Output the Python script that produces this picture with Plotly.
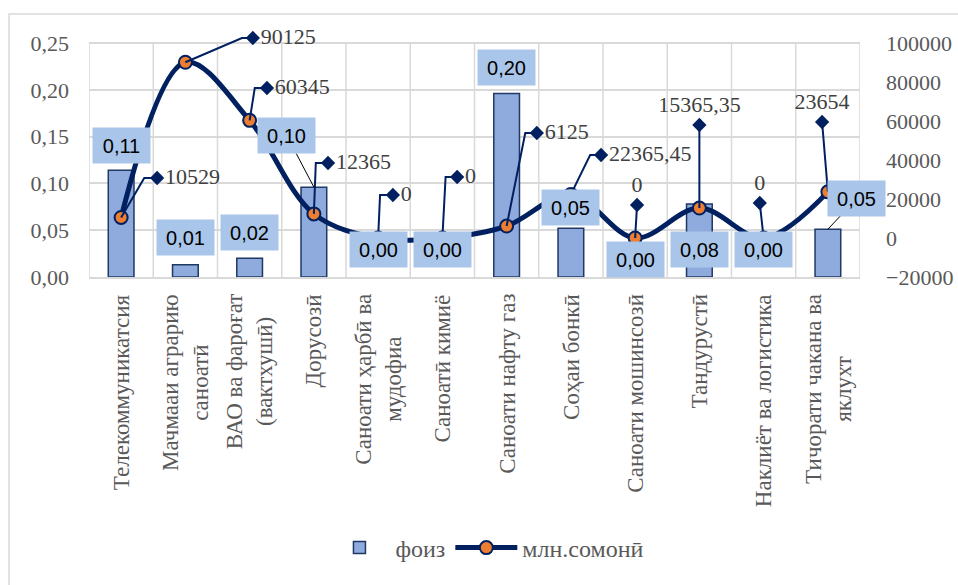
import plotly.graph_objects as go

# ---------------- data ----------------
categories = [
    "Телекоммуникатсия",
    "Мачмааи аграрию<br>саноатӣ",
    "ВАО ва фароғат<br>(вактхушӣ)",
    "Дорусозӣ",
    "Саноати ҳарбӣ ва<br>мудофиа",
    "Саноатӣ кимиё",
    "Саноати нафту газ",
    "Соҳаи бонкӣ",
    "Саноати мошинсозӣ",
    "Тандурустӣ",
    "Наклиёт ва логистика",
    "Тичорати чакана ва<br>яклухт",
]
share = [0.114, 0.013, 0.020, 0.096, 0.0, 0.0, 0.196, 0.052, 0.0, 0.078, 0.0, 0.051]
amount = [10529, 90125, 60345, 12365, 0, 0, 6125, 22365.45, 0, 15365.35, 0, 23654]
left_ticks = [0.0, 0.05, 0.10, 0.15, 0.20, 0.25]
right_ticks = [-20000, 0, 20000, 40000, 60000, 80000, 100000]
series_names = ["фоиз", "млн.сомонӣ"]

# ---------------- label placement (styling) ----------------
bar_lbl_dx = [0, 0, 0, -0.42, 0, 0, 0, 0, 0, 0, 0, 0.45]
bar_lbl_y = [0.141, 0.0417, 0.048, 0.151, 0.029, 0.029, 0.224, 0.074, 0.019, 0.029, 0.029, 0.084]
bar_lbl_leader = [False, False, False, True, False, False, False, False, False, False, False, True]

elbow_dx = [0.36, 0.88, 0.08, 0.03, 0.03, 0.05, 0.29, 0.30, 0.03, 0.0, -0.06, -0.09]
diam_dx = [0.56, 1.05, 0.27, 0.22, 0.23, 0.23, 0.47, 0.47, 0.03, 0.0, -0.06, -0.09]
diam_y = [30769, 102564, 76923, 38462, 22051, 31282, 53846, 42564, 16923, 57949, 17949, 59487]
line_lbl_pos = ["middle right"] * 8 + ["top center"] * 4

NAVY = "#002060"
BAR_FILL = "#8FAADC"
BAR_EDGE = "#1F3864"
ORANGE = "#ED7D31"
GRID = "#D9D9D9"
TXT = "#595959"
SERIF = "Liberation Serif"

# geometry: gridded area 771 x 234 px; drawing area extends 23 px higher for labels
PLOT_H = 234
PAPER_H = 257
EXT = PAPER_H / PLOT_H
Y1_SPAN = [left_ticks[0], left_ticks[-1]]
Y2_SPAN = [right_ticks[0], right_ticks[-1]]
Y1_RANGE = [Y1_SPAN[0], Y1_SPAN[0] + (Y1_SPAN[1] - Y1_SPAN[0]) * EXT]
Y2_RANGE = [Y2_SPAN[0], Y2_SPAN[0] + (Y2_SPAN[1] - Y2_SPAN[0]) * EXT]


def fmt_num(v):
    s = f"{v:.2f}".rstrip("0").rstrip(".")
    return s.replace(".", ",")


def pap(px_below_plot_bottom):
    return -px_below_plot_bottom / PAPER_H


xs = list(range(len(categories)))

fig = go.Figure()

fig.add_trace(go.Bar(
    x=xs, y=share, name=series_names[0], width=0.4,
    marker=dict(color=BAR_FILL,
                line=dict(color=BAR_EDGE, width=[1.5 if v > 0 else 0 for v in share])),
    yaxis="y",
))

fig.add_trace(go.Scatter(
    x=xs, y=amount, name=series_names[1], yaxis="y2",
    mode="lines+markers",
    line=dict(color=NAVY, width=5, shape="spline", smoothing=1),
    marker=dict(color=ORANGE, size=13, line=dict(color=NAVY, width=2)),
))

# leader lines (point -> elbow -> diamond)
lx, ly = [], []
for i in xs:
    lx += [i, i + elbow_dx[i], i + diam_dx[i], None]
    ly += [amount[i], diam_y[i], diam_y[i], None]
fig.add_trace(go.Scatter(
    x=lx, y=ly, yaxis="y2", mode="lines", showlegend=False, hoverinfo="skip",
    line=dict(color=NAVY, width=2),
))

# diamonds with value labels
fig.add_trace(go.Scatter(
    x=[x + d for x, d in zip(xs, diam_dx)], y=diam_y, yaxis="y2",
    mode="markers+text", showlegend=False, hoverinfo="skip",
    marker=dict(symbol="diamond", color=NAVY, size=11),
    text=[fmt_num(v) for v in amount], textposition=line_lbl_pos,
    textfont=dict(family=SERIF, size=22, color="#404040"),
    cliponaxis=False,
))

annotations = []
# bar value labels
for i in xs:
    txt = f"{share[i]:.2f}".replace(".", ",")
    common = dict(text=txt, font=dict(family="Liberation Sans", size=20, color="#000000"),
                  bgcolor="#A9C6EA", width=55, height=33, borderpad=1, xref="x", yref="y")
    if bar_lbl_leader[i]:
        a = dict(x=i, y=share[i], ax=i + bar_lbl_dx[i], ay=bar_lbl_y[i],
                 axref="x", ayref="y", showarrow=True, arrowhead=0,
                 arrowwidth=1, arrowcolor="#000000", **common)
    else:
        a = dict(x=i + bar_lbl_dx[i], y=bar_lbl_y[i], showarrow=False, **common)
    annotations.append(a)

# category labels
for i in xs:
    annotations.append(dict(x=i, y=pap(15), xref="x", yref="paper",
                            text=categories[i], textangle=-90,
                            xanchor="center", yanchor="top", align="center",
                            font=dict(family=SERIF, size=23, color=TXT),
                            showarrow=False))

# vertical grid lines at category boundaries, spanning the gridded area
shapes = [dict(type="line", xref="x", yref="y", x0=k - 0.5, x1=k - 0.5,
               y0=Y1_SPAN[0], y1=Y1_SPAN[1], line=dict(color=GRID, width=1.5), layer="below")
          for k in range(len(xs) + 1)]
# outer chart border (right and bottom edges lie outside the picture)
shapes.append(dict(type="rect", xref="paper", yref="paper",
                   x0=-80 / 771, x1=1.2, y0=-1.5, y1=(277 - 14) / PAPER_H,
                   line=dict(color=GRID, width=1.5), fillcolor="rgba(0,0,0,0)", layer="below"))

fig.update_layout(
    width=958, height=585,
    margin=dict(l=89, r=98, t=20, b=308, autoexpand=False),
    paper_bgcolor="white", plot_bgcolor="white",
    separators=", ",
    showlegend=True,
    legend=dict(orientation="h", x=0.5155, xanchor="center", y=pap(271), yanchor="middle",
                font=dict(family=SERIF, size=24, color=TXT), itemwidth=62,
                traceorder="normal"),
    xaxis=dict(range=[-0.5, 11.5], tickmode="array", tickvals=xs, showticklabels=False,
               showgrid=False, zeroline=False, showline=True, linecolor=GRID, linewidth=1.5,
               mirror=False, ticks="", automargin=False),
    yaxis=dict(range=Y1_RANGE, tickmode="array", tickvals=left_ticks, automargin=False,
               tickformat=".2f", showgrid=True, gridcolor=GRID, gridwidth=1.5, zeroline=False,
               showline=False, ticks="", ticklabelstandoff=19,
               tickfont=dict(family=SERIF, size=22, color=TXT)),
    yaxis2=dict(range=Y2_RANGE, overlaying="y", side="right", tickmode="array",
                tickvals=right_ticks, tickformat="d", showgrid=False, zeroline=False,
                showline=False, ticks="", ticklabelstandoff=25, automargin=False,
                tickfont=dict(family=SERIF, size=22, color=TXT)),
    annotations=annotations,
    shapes=shapes,
)

fig.write_html(
    "out.html",
    config={"displayModeBar": False},
    post_script="document.body.style.margin='0';document.body.style.overflow='hidden';",
)
